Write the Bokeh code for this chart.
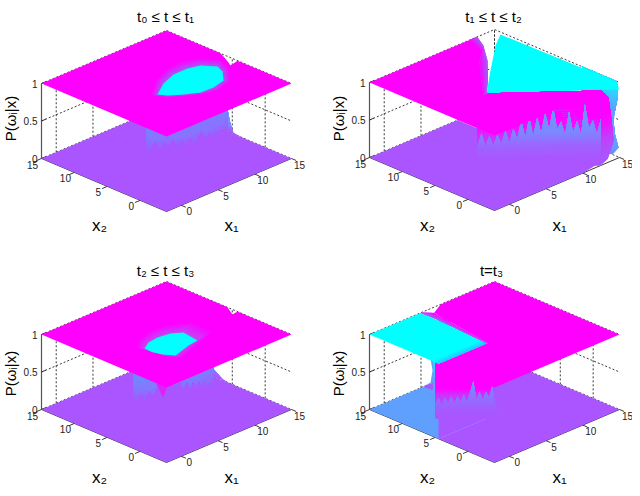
import math
import numpy as np
from bokeh.embed import file_html
from bokeh.layouts import gridplot
from bokeh.models import Range1d
from bokeh.plotting import figure
from bokeh.resources import INLINE
from bokeh.core.properties import value

# ---- axes -------------------------------------------------------------
X1_LIM = [-2, 15]
X2_LIM = [-4, 15]
X_TICKS = [0, 5, 10, 15]
Z_TICKS = [0, 0.5, 1]
Z_LABELS = ["0", "0.5", "1"]
TITLES = ["t₀ ≤ t ≤ t₁", "t₁ ≤ t ≤ t₂", "t₂ ≤ t ≤ t₃", "t=t₃"]

# ---- panel 1: contours (x1, x2) ---------------------------------------
p1_blob_x1 = [4.12, 6.3, 8.42, 10.33, 11.7, 12.69, 12.23, 10.86, 9.05, 7.37, 5.89, 4.65]
p1_blob_x2 = [4.21, 5.73, 6.58, 6.59, 6.15, 4.66, 3.39, 1.7, 1.21, 1.3, 2.23, 3.27]
p1_dip_x1 = [3.49, 6.32, 8.84, 11.14, 12.85, 14.18, 13.35, 11.4, 8.98, 7.18, 5.57, 4.32]
p1_dip_x2 = [4.57, 7.12, 8.26, 8.56, 7.72, 5.88, 3.58, 1.1, 0.22, 0.79, 1.88, 2.92]
p1_plane_x1 = [-2, 15, 15, 14.6, 14.08, 13.74, 15, 15, -2]
p1_plane_x2 = [15, 15, 6.8, 5.75, 4.55, 3.87, 4.2, -4, -4]
p1_wall_x1 = [5.14, 6.82, 9.09, 11.41, 14.01]
p1_wall_x2 = [7.02, 5.86, 4.75, 4.3, 4.63]
p1_spikes = [.0, .12, .22, .06, .2, .1, .24, .06, .2, .08, .22, .05, .18, .26, .08, .22, .05, .18, .08, .2, .08, .14]
p1_edge_x2 = [3.3, 4.82, 5.27, 5.73, 6.0, 9.0, 9.0]
p1_edge_z = [0, .02, .12, .29, .6, .6, 0]

# ---- panel 2 ----------------------------------------------------------
p2_floor_x1 = [-2, -2, 10.1, 11.6, 13, 14.1, 10, 10]
p2_floor_x2 = [15, -4, -4, -3.7, -3.4, -3.2, 6, 15]
p2_rim_x2 = [-2.94, -3.85, -3.24, -3.09, -3.7, -3.7, -3.5, 1.7, 1.7]
p2_rim_z = [0, .128, .305, .487, .78, .95, 1, 1, 0]
p2_cyan_x1 = [14.6, 14.86, 15, 12.44, 4.03, 8.15, 12.5]
p2_cyan_x2 = [13.65, -3.85, -3.9, -3.7, 3.96, 7.95, 12.05]
p2_cyan_z = [1, 1, .9, 1, 1, 1, 1]
p2_plane_x1 = [-2, 12.65, 11.69, 9.55, 6.38, 4.03, 12.47, -2]
p2_plane_x2 = [15, 15, 13, 9.97, 6.35, 3.96, -4, -4]
p2_fold_x1 = [11.7, 10.66, 8.69, 5.94, 3.83]
p2_fold_x2 = [15, 12.04, 10.22, 6.85, 4.19]
p2_fold_in_x1 = [12.65, 11.69, 9.55, 6.38, 4.03]
p2_fold_in_x2 = [15, 13, 9.97, 6.35, 3.96]
p2_wall_x1 = [3.56, 12.47]
p2_wall_x2 = [4.8, -4]
p2_spikes = [.3, .47, .3, .43, .3, .45, .32, .5, .33, .52, .38, .63, .4, .66, .42, .66, .45, .72, .5, .79, .5, .6, .42, .73, .45, .6, .42, .82, .5, .6, .42, .62]
p2_side_x1 = [12.47, 13.5, 13.9, 14.18, 13.4, 12.5]
p2_side_z = [1, .86, .565, .26, .05, 0]

# ---- panel 3 ----------------------------------------------------------
p3_blob_x1 = [2.76, 3.99, 5.4, 6.93, 7.98, 7.65, 6.23, 3.75, 3.02, 2.7]
p3_blob_x2 = [4.66, 5.43, 5.64, 5.38, 4.57, 2.07, 1.85, 1.05, 2.22, 3.5]
p3_dip_x1 = [2.31, 3.96, 5.91, 7.9, 10.51, 10.33, 7.53, 3.9, 3.08, 3.02]
p3_dip_x2 = [5.53, 6.92, 7.58, 7.52, 6.03, 2.64, 1.48, .16, 1.07, 2.72]
p3_plane_x1 = [-2, 15, 15, 14.19, 15, 15, -2]
p3_plane_x2 = [15, 15, 5.73, 4.07, 4.21, -4, -4]
p3_wall_x1 = [4.42, 6.42, 8.89, 12.42]
p3_wall_x2 = [8.19, 6.32, 5.0, 5.0]
p3_spikes = [.02, .12, .2, .08, .24, .16, .28, .2, .34, .24, .38, .26, .32, .2, .3, .16, .28, .14, .24, .12, .2, .1, .12, .08]
p3_edge_x2 = [3.6, 5.27, 6.49, 7.86, 9, 12, 12]
p3_edge_z = [0, 0, .02, .1, .4, .4, 0]
p3_fold_x1 = [6.1, 6.6, 7.1]
p3_fold_x2 = [6.6, 6.1, 5.9]
p3_fold_z = [.32, .13, .32]

# ---- panel 4 ----------------------------------------------------------
p4_purple_x1 = [-2, -2, 15, 15, 5.2, 5.0]
p4_purple_x2 = [4.5, -4, -4, 15, 15, 4.5]
p4_blue_x1 = [-2, -2, 5.5, 6.3, 5.2]
p4_blue_x2 = [15, 4.5, 4.5, 9, 15]
p4_patch_x1 = [5.2, 6.3, 6.57, 6.3, 6.3, 9, 9]
p4_patch_z = [0, .015, .164, .33, .8, .8, 0]
p4_face_x2 = [4.5, 5.3, 5.3, 4.5]
p4_face_z = [0, 0, 1, 1]
p4_cyan_x1 = [-2, 5.0, 4.6, -2]
p4_cyan_x2 = [15, 15, 4.5, 4.5]
p4_shade_x1 = [-2, 4.7]
p4_shade_x2 = [5.6, 5.6]
p4_shade_in_x1 = [-2, 4.6]
p4_shade_in_x2 = [4.5, 4.5]
p4_plane_x1 = [7.66, 5.9, 5.67, 5.4, 4.62, -.28, -2, -2, 15, 15]
p4_plane_x2 = [15, 14, 13.2, 10, 3.96, 4.2, 4.2, -4, -4, 15]
p4_fold_x1 = [5.9, 5.67, 5.4, 4.62]
p4_fold_x2 = [14, 13.2, 10, 4.0]
p4_fold_in_x1 = [5.0, 5.0, 4.8, 4.6]
p4_fold_in_x2 = [15, 12, 9, 4.5]
p4_back_x1 = [1.04, 4.78]
p4_back_x2 = [8.37, 4.19]
p4_wall_x1 = [1.04, 5.33]
p4_wall_x2 = [8.37, 3.58]
p4_spikes = [.2, .28, .18, .28, .2, .3, .2, .3, .22, .32, .22, .35, .5, .25, .36, .25, .36, .28, .42, .2, .1]

# ---- colours ----------------------------------------------------------
MAGENTA = "#ff00ff"
CYAN = "#00ffff"
PURPLE = "#aa55ff"
BLUE = "#5fa0ff"
INK = "#222222"
FONT = "Liberation Sans"

# ---- scene geometry (page pixels) --------------------------------------
HW, HD, HZ = 125, 53, 75
PANELS = [
    dict(cx=166, base=211, xr=(0, 316), yr=(244, 0), title=(165, 16), yl=(10, 118), x1l=(231, 225), x2l=(99, 225)),
    dict(cx=494, base=210, xr=(316, 632), yr=(244, 0), title=(493, 16), yl=(338, 118), x1l=(559, 225), x2l=(427, 225)),
    dict(cx=166, base=462, xr=(0, 316), yr=(488, 244), title=(165, 270), yl=(10, 373), x1l=(231, 477), x2l=(99, 477)),
    dict(cx=494, base=462, xr=(316, 632), yr=(488, 244), title=(491, 270), yl=(338, 373), x1l=(559, 477), x2l=(427, 477)),
]


def rgb(h):
    return np.array([int(h[i:i + 2], 16) for i in (1, 3, 5)], dtype=float)


def mix(a, b, t):
    c = rgb(a) * (1 - t) + rgb(b) * t
    return "#%02x%02x%02x" % tuple(int(round(v)) for v in c)


def ramp_colour(ramp, z):
    if z <= ramp[0][0]:
        return ramp[0][1]
    for (z0, c0), (z1, c1) in zip(ramp, ramp[1:]):
        if z <= z1:
            return mix(c0, c1, (z - z0) / (z1 - z0))
    return ramp[-1][1]


class Scene:
    def __init__(self, panel):
        self.pn = panel
        self.xs, self.ys, self.cs = [], [], []

    def pr(self, x1, x2, z):
        x1, x2, z = np.asarray(x1, float), np.asarray(x2, float), np.asarray(z, float)
        u = (x1 - X1_LIM[0]) / (X1_LIM[1] - X1_LIM[0])
        v = (x2 - X2_LIM[0]) / (X2_LIM[1] - X2_LIM[0])
        return self.pn["cx"] + HW * (u - v), self.pn["base"] - HD * (u + v) - HZ * z

    def poly(self, x1, x2, z, colour):
        z = np.full(len(x1), z) if np.isscalar(z) else z
        sx, sy = self.pr(x1, x2, z)
        self.xs.append(list(sx))
        self.ys.append(list(sy))
        self.cs.append(colour)

    def shaded(self, x1, x2, z, ramp, step=0.03, fade=None, fade_by=1.0):
        """Paint a 3-D polygon from its low z up, one clipped layer per step."""
        pts = list(zip(x1, x2, z))
        lo, hi = min(z), max(z)
        for lev in np.arange(lo, hi, step):
            out = []
            for i, a in enumerate(pts):
                b = pts[(i + 1) % len(pts)]
                if a[2] >= lev:
                    out.append(a)
                if (a[2] >= lev) != (b[2] >= lev):
                    t = (lev - a[2]) / (b[2] - a[2])
                    out.append(tuple(a[k] + t * (b[k] - a[k]) for k in range(3)))
            if len(out) >= 3:
                o = np.array(out)
                c = ramp_colour(ramp, lev)
                if fade is not None:
                    c = mix(fade, c, fade_by)
                self.poly(o[:, 0], o[:, 1], o[:, 2], c)

    def fold(self, ox1, ox2, ix1, ix2, z, c_out, c_in, n=8):
        """Colour steps across the fold between two closed read contours."""
        ox1, ox2, ix1, ix2 = map(lambda a: np.asarray(a, float), (ox1, ox2, ix1, ix2))
        for k in range(n):
            t = k / n
            self.poly(ox1 + (ix1 - ox1) * t, ox2 + (ix2 - ox2) * t, z, mix(c_out, c_in, t))

    def strip(self, ox1, ox2, ix1, ix2, z, c_out, c_in, n=6):
        """Colour steps between two open read contours."""
        ox1, ox2, ix1, ix2 = map(lambda a: np.asarray(a, float), (ox1, ox2, ix1, ix2))
        for k in range(n):
            t = k / n
            a = ox1 + (ix1 - ox1) * t
            b = ox2 + (ix2 - ox2) * t
            self.poly(np.r_[a, ix1[::-1]], np.r_[b, ix2[::-1]], z, mix(c_out, c_in, t))


def along(kx1, kx2, n):
    d = np.r_[0, np.cumsum(np.hypot(np.diff(kx1), np.diff(kx2)))]
    s = np.linspace(0, d[-1], n)
    return np.interp(s, d, kx1), np.interp(s, d, kx2)


def wall_down(sc, kx1, kx2, tips, ramp, top=0.7, passes=6):
    a, b = along(kx1, kx2, len(tips))
    for k in range(passes):
        i = passes - 1 - k  # stations trimmed off the left end
        aa, bb, tt = a[i:], b[i:], list(tips)[i:]
        sc.shaded(list(aa) + list(aa[::-1]), list(bb) + list(bb[::-1]),
                  tt + [top] * len(tt), ramp, .03, PURPLE, (k + 1) / passes)


def wall_up(sc, kx1, kx2, tips, ramp):
    a, b = along(kx1, kx2, len(tips))
    sc.shaded(list(a) + list(a[::-1]), list(b) + list(b[::-1]),
              [0.0] * len(tips) + list(tips[::-1]), ramp)


DOWN_RAMP = [(0, PURPLE), (.1, "#a05cff"), (.25, "#8478ff"), (.45, "#6490ff"), (.7, "#6090ff")]
EDGE_RAMP = [(0, PURPLE), (.08, "#7c88ff"), (.3, BLUE), (.6, BLUE)]
BACK_RAMP = [(.1, PURPLE), (.32, "#c040f8"), (.52, "#f010ff"), (.66, MAGENTA)]
UP_RAMP = [(.1, PURPLE), (.28, "#9c66ff"), (.45, "#7c88ff"), (.8, "#60a0ff")]
RIM_RAMP = [(0, "#7088ff"), (.1, BLUE), (.6, BLUE), (.95, "#10eeff"), (1, CYAN)]
FACE_RAMP = [(0, BLUE), (.75, BLUE), (1, "#10eeff")]
P4_BACK_RAMP = [(0, PURPLE), (.12, "#b050ff"), (.3, "#d030f8"), (.38, MAGENTA)]
P4_UP_RAMP = [(.02, PURPLE), (.16, "#a060ff"), (.3, "#8878ff"), (.5, "#60a0ff")]

FULL_X1 = [X1_LIM[0], X1_LIM[0], X1_LIM[1], X1_LIM[1]]
FULL_X2 = [X2_LIM[1], X2_LIM[0], X2_LIM[0], X2_LIM[1]]


def scene1(sc):
    sc.poly(FULL_X1, FULL_X2, 0, PURPLE)
    sc.shaded([15] * len(p1_edge_x2), p1_edge_x2, p1_edge_z, EDGE_RAMP, .02)
    wall_down(sc, p1_wall_x1, p1_wall_x2, p1_spikes, DOWN_RAMP)
    sc.poly(p1_plane_x1, p1_plane_x2, 1, MAGENTA)
    sc.fold(p1_dip_x1, p1_dip_x2, p1_blob_x1, p1_blob_x2, 1, MAGENTA, "#a858f5")
    sc.poly(p1_blob_x1, p1_blob_x2, 1, CYAN)


def scene2(sc):
    sc.poly(p2_floor_x1, p2_floor_x2, 0, PURPLE)
    sc.shaded([15] * len(p2_rim_x2), p2_rim_x2, p2_rim_z, RIM_RAMP)
    sc.poly(p2_cyan_x1, p2_cyan_x2, np.array(p2_cyan_z), CYAN)
    a, b = along(p2_wall_x1, p2_wall_x2, 2)
    sc.shaded(list(a) + list(a[::-1]), list(b) + list(b[::-1]), [0, 0, 1, 1], BACK_RAMP)
    sc.shaded(p2_side_x1, [-4] * len(p2_side_x1), p2_side_z, BACK_RAMP)
    wall_up(sc, p2_wall_x1, p2_wall_x2, p2_spikes, UP_RAMP)
    sc.poly(p2_plane_x1, p2_plane_x2, 1, MAGENTA)
    sc.strip(p2_fold_in_x1, p2_fold_in_x2, p2_fold_x1, p2_fold_x2, 1, "#a858f5", MAGENTA, 6)


def scene3(sc):
    sc.poly(FULL_X1, FULL_X2, 0, PURPLE)
    sc.shaded([15] * len(p3_edge_x2), p3_edge_x2, p3_edge_z, EDGE_RAMP, .02)
    wall_down(sc, p3_wall_x1, p3_wall_x2, p3_spikes, DOWN_RAMP)
    sc.poly(p3_fold_x1, p3_fold_x2, np.array(p3_fold_z), "#e020f8")
    sc.poly(p3_plane_x1, p3_plane_x2, 1, MAGENTA)
    sc.fold(p3_dip_x1, p3_dip_x2, p3_blob_x1, p3_blob_x2, 1, MAGENTA, "#c048f5")
    sc.poly(p3_blob_x1, p3_blob_x2, 1, CYAN)


def scene4(sc):
    sc.poly(p4_purple_x1, p4_purple_x2, 0, PURPLE)
    sc.poly(p4_blue_x1, p4_blue_x2, 0, BLUE)
    sc.poly(p4_patch_x1, [15] * len(p4_patch_x1), np.array(p4_patch_z), BLUE)
    sc.shaded([-2] * 4, p4_face_x2, p4_face_z, FACE_RAMP)
    a, b = along(p4_back_x1, p4_back_x2, 2)
    sc.poly([-2, 5, 5, -2], [4.5] * 4, np.array([0, 0, .5, .5]), PURPLE)
    sc.shaded(list(a) + list(a[::-1]), list(b) + list(b[::-1]), [0, 0, 1, 1], P4_BACK_RAMP)
    wall_up(sc, p4_wall_x1, p4_wall_x2, p4_spikes, P4_UP_RAMP)
    sc.poly(p4_cyan_x1, p4_cyan_x2, 1, CYAN)
    sc.strip(p4_shade_x1, p4_shade_x2, p4_shade_in_x1, p4_shade_in_x2, 1, CYAN, "#30bbff", 5)
    sc.poly(p4_plane_x1, p4_plane_x2, 1, MAGENTA)
    sc.strip(p4_fold_x1, p4_fold_x2, p4_fold_in_x1, p4_fold_in_x2, 1, MAGENTA, "#9070ff", 5)


def make_panel(panel, draw, title):
    p = figure(width=316, height=244, output_backend="svg", toolbar_location=None,
               x_range=Range1d(*panel["xr"]), y_range=Range1d(*panel["yr"]),
               min_border=0, outline_line_color=None, background_fill_color="white",
               border_fill_color="white")
    p.axis.visible = False
    p.grid.visible = False
    sc = Scene(panel)

    # box behind the surfaces
    dx, dy = [], []
    for z in Z_TICKS:
        a = sc.pr([-2, 15, 15], [15, 15, -4], [z] * 3)
        dx.append(list(a[0])); dy.append(list(a[1]))
    for t in X_TICKS:
        a = sc.pr([t, t], [15, 15], [0, 1])
        dx.append(list(a[0])); dy.append(list(a[1]))
        a = sc.pr([15, 15], [t, t], [0, 1])
        dx.append(list(a[0])); dy.append(list(a[1]))
    p.multi_line(dx, dy, line_color=INK, line_width=0.9, line_dash="2 2")

    # solid axes and ticks
    ax, ay = [], []
    for x1s, x2s, zs in (([-2, 15], [-4, -4], [0, 0]), ([-2, -2], [-4, 15], [0, 0])):
        a = sc.pr(x1s, x2s, zs)
        ax.append(list(a[0])); ay.append(list(a[1]))
    for t in X_TICKS:
        a = sc.pr([t, t], [-4, -4.7], [0, 0])
        ax.append(list(a[0])); ay.append(list(a[1]))
        a = sc.pr([-2, -2.7], [t, t], [0, 0])
        ax.append(list(a[0])); ay.append(list(a[1]))
    p.multi_line(ax, ay, line_color=INK, line_width=0.9)
    zx, zy = sc.pr([-2, -2], [15, 15], [0, 1])
    p.line(list(zx), list(zy), line_color="#555555", line_width=1.2)
    for z in Z_TICKS:
        a = sc.pr([-2, -1.4], [15, 15], [z, z])
        p.line(list(a[0]), list(a[1]), line_color=INK, line_width=0.9)

    draw(sc)
    p.patches(sc.xs, sc.ys, fill_color=sc.cs, line_color=None)

    # tick labels
    ts = dict(text_font=value(FONT), text_font_size="10px", text_color=INK, text_baseline="middle")
    sx, sy = sc.pr(X_TICKS, [-4] * 4, [0] * 4)
    p.text(list(sx + 8), list(sy + 6), text=[str(t) for t in X_TICKS], text_align="center", **ts)
    sx, sy = sc.pr([-2] * 4, X_TICKS, [0] * 4)
    p.text(list(sx - 9), list(sy + 6), text=[str(t) for t in X_TICKS], text_align="center", **ts)
    sx, sy = sc.pr([-2] * 3, [15] * 3, Z_TICKS)
    p.text(list(sx - 4), list(sy), text=Z_LABELS, text_align="right", **ts)

    # titles
    ls = dict(text_font=value(FONT), text_color="black", text_baseline="middle", text_align="center")
    p.text([panel["title"][0]], [panel["title"][1]], text=[title], text_font_size="15px", **ls)
    p.text([panel["x1l"][0]], [panel["x1l"][1]], text=["x₁"], text_font_size="17px", **ls)
    p.text([panel["x2l"][0]], [panel["x2l"][1]], text=["x₂"], text_font_size="17px", **ls)
    p.text([panel["yl"][0]], [panel["yl"][1]], text=["P(ωᵢ|x)"], text_font_size="15px",
           angle=math.pi / 2, **ls)
    return p


figs = [make_panel(pn, d, t) for pn, d, t in zip(PANELS, (scene1, scene2, scene3, scene4), TITLES)]
page = gridplot([figs[:2], figs[2:]], toolbar_location=None, merge_tools=False)
open("out.html", "w").write(file_html(page, INLINE))
